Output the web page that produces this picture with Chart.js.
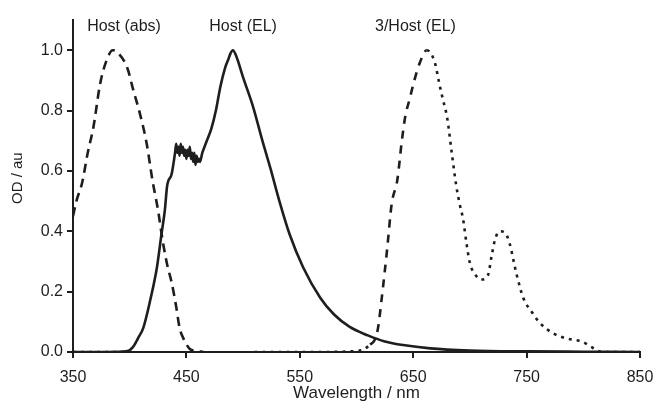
<!DOCTYPE html>
<html>
<head>
<meta charset="utf-8">
<script src="https://cdn.jsdelivr.net/npm/chart.js@4/dist/chart.umd.min.js"></script>
<style>
  html, body { margin: 0; padding: 0; background: #fff; }
  #wrap { width: 655px; height: 403px; }
</style>
</head>
<body>
<div id="wrap"><canvas id="spectra"></canvas></div>
<script>
// Host absorption (dashed)
var absX = [350, 353, 358, 363, 368, 374, 380, 385, 390, 398, 403, 409, 415, 420, 425, 429, 433, 437, 441, 444, 448, 453, 458, 465];
var absY = [0.45, 0.50, 0.56, 0.66, 0.745, 0.89, 0.97, 1.0, 0.99, 0.94, 0.87, 0.79, 0.69, 0.57, 0.47, 0.37, 0.29, 0.23, 0.15, 0.08, 0.04, 0.01, 0.004, 0.0];

// Host electroluminescence (solid, noisy shoulder)
var elX = [350, 380, 398, 403, 408, 412, 418, 424, 428, 431, 433, 437, 440, 441, 442, 443, 444, 445, 446, 447, 448, 449, 450, 451, 452, 453, 454, 455, 456, 457, 458, 459, 460, 461, 462, 464, 466, 468, 472, 476, 480, 484, 487, 489, 491, 494, 500, 509, 517, 524, 532, 541, 553, 568, 580, 594, 610, 625, 641, 665, 700, 750, 800, 850];
var elY = [0.0, 0.0, 0.003, 0.017, 0.05, 0.08, 0.17, 0.28, 0.39, 0.47, 0.55, 0.59, 0.66, 0.69, 0.66, 0.68, 0.65, 0.69, 0.66, 0.68, 0.65, 0.67, 0.64, 0.67, 0.65, 0.68, 0.64, 0.66, 0.63, 0.66, 0.62, 0.65, 0.63, 0.64, 0.63, 0.66, 0.68, 0.70, 0.74, 0.80, 0.88, 0.94, 0.97, 0.99, 1.0, 0.98, 0.91, 0.81, 0.70, 0.61, 0.50, 0.39, 0.28, 0.18, 0.125, 0.083, 0.055, 0.035, 0.023, 0.012, 0.005, 0.002, 0.001, 0.0];

// 3/Host electroluminescence (dashed rise, dotted fall); null gives the gap
var dopX = [350, 370, 390, 402, 406, 510, 560, 600, 607, 612, 616, 619, 622, 627, 631, 636, 640, 643, 647, 651, 656, 662, 669, 673, 676, 680, 684, 688, 691, 694, 697, 700, 706, 710, 716, 719, 722, 726, 731, 735, 741, 747, 755, 762, 773, 785, 799, 807, 812, 820, 850];
var dopY = [0, 0, 0, 0, null, 0, 0, 0.003, 0.01, 0.025, 0.04, 0.08, 0.17, 0.34, 0.49, 0.57, 0.70, 0.78, 0.84, 0.90, 0.96, 1.0, 0.96, 0.89, 0.84, 0.775, 0.66, 0.55, 0.49, 0.44, 0.36, 0.295, 0.25, 0.24, 0.255, 0.315, 0.37, 0.40, 0.395, 0.36, 0.26, 0.18, 0.13, 0.095, 0.063, 0.045, 0.034, 0.017, 0.005, 0.0, 0.0];

var xTicks = [350, 450, 550, 650, 750, 850];
var yTicks = [0.0, 0.2, 0.4, 0.6, 0.8, 1.0];

var curveLabels = ["Host (abs)", "Host (EL)", "3/Host (EL)"];
var labelX = [395, 500, 652];
var labelY = [1.078, 1.078, 1.078];

function pairs(xs, ys) {
    var out = [];
    for (var i = 0; i < xs.length; i++) out.push({x: xs[i], y: ys[i]});
    return out;
}

var ink = "#1e1e1e";
var fontFamily = "'Liberation Sans', Arial, Helvetica, sans-serif";

var textPlugin = {
    id: "curveLabels",
    afterDatasetsDraw: function(chart) {
        var c = chart.ctx, xs = chart.scales.x, ys = chart.scales.y;
        c.save();
        c.fillStyle = ink;
        c.font = "16px " + fontFamily;
        c.textAlign = "center";
        c.textBaseline = "middle";
        for (var i = 0; i < curveLabels.length; i++) {
            c.fillText(curveLabels[i], xs.getPixelForValue(labelX[i]), ys.getPixelForValue(labelY[i]));
        }
        // y axis title, sits a bit above the middle of the axis
        c.translate(18, ys.getPixelForValue(0.576));
        c.rotate(-Math.PI / 2);
        c.font = "15px " + fontFamily;
        c.fillText("OD / au", 0, 0);
        c.restore();
    }
};

Chart.defaults.font.family = fontFamily;
Chart.defaults.color = ink;

new Chart(document.getElementById("spectra"), {
    type: "line",
    data: {
        datasets: [
            {
                label: "Host (abs)",
                data: pairs(absX, absY),
                borderColor: ink,
                borderWidth: 2.6,
                borderDash: [9, 6],
                pointRadius: 0,
                cubicInterpolationMode: "monotone"
            },
            {
                label: "Host (EL)",
                data: pairs(elX, elY),
                borderColor: ink,
                borderWidth: 2.6,
                pointRadius: 0,
                cubicInterpolationMode: "monotone"
            },
            {
                label: "3/Host (EL)",
                data: pairs(dopX, dopY),
                borderColor: ink,
                borderWidth: 2.6,
                pointRadius: 0,
                cubicInterpolationMode: "monotone",
                segment: {
                    borderDash: function(ctx) {
                        var x = ctx.p0.parsed.x;
                        return (x >= 610 && x < 661) ? [8, 7] : [3, 5];
                    }
                }
            }
        ]
    },
    options: {
        responsive: true,
        maintainAspectRatio: false,
        animation: false,
        layout: { padding: { top: 20, right: 15, left: 0, bottom: 0 } },
        plugins: {
            legend: { display: false },
            tooltip: { enabled: false }
        },
        scales: {
            x: {
                type: "linear",
                min: 350,
                max: 850,
                afterBuildTicks: function(scale) {
                    scale.ticks = xTicks.map(function(v) { return {value: v}; });
                },
                afterFit: function(scale) {
                    scale.height = 51;
                    scale.paddingLeft = 0;
                    scale.paddingRight = 0;
                },
                ticks: {
                    font: { size: 16 },
                    padding: 10,
                    maxRotation: 0,
                    callback: function(v) { return String(v); }
                },
                grid: { drawOnChartArea: false, drawTicks: true, tickLength: 6, color: ink, lineWidth: 2 },
                border: { color: ink, width: 2 },
                title: {
                    display: true,
                    text: "Wavelength / nm",
                    font: { size: 17 },
                    padding: { top: 0, bottom: -1 }
                }
            },
            y: {
                type: "linear",
                min: 0,
                max: 1.1,
                afterBuildTicks: function(scale) {
                    scale.ticks = yTicks.map(function(v) { return {value: v}; });
                },
                afterFit: function(scale) {
                    scale.width = 73;
                    scale.paddingTop = 0;
                    scale.paddingBottom = 0;
                },
                ticks: {
                    font: { size: 16 },
                    padding: 4,
                    callback: function(v) { return v.toFixed(1); }
                },
                grid: { drawOnChartArea: false, drawTicks: true, tickLength: 6, color: ink, lineWidth: 2 },
                border: { color: ink, width: 2 }
            }
        }
    },
    plugins: [textPlugin]
});
</script>
</body>
</html>
